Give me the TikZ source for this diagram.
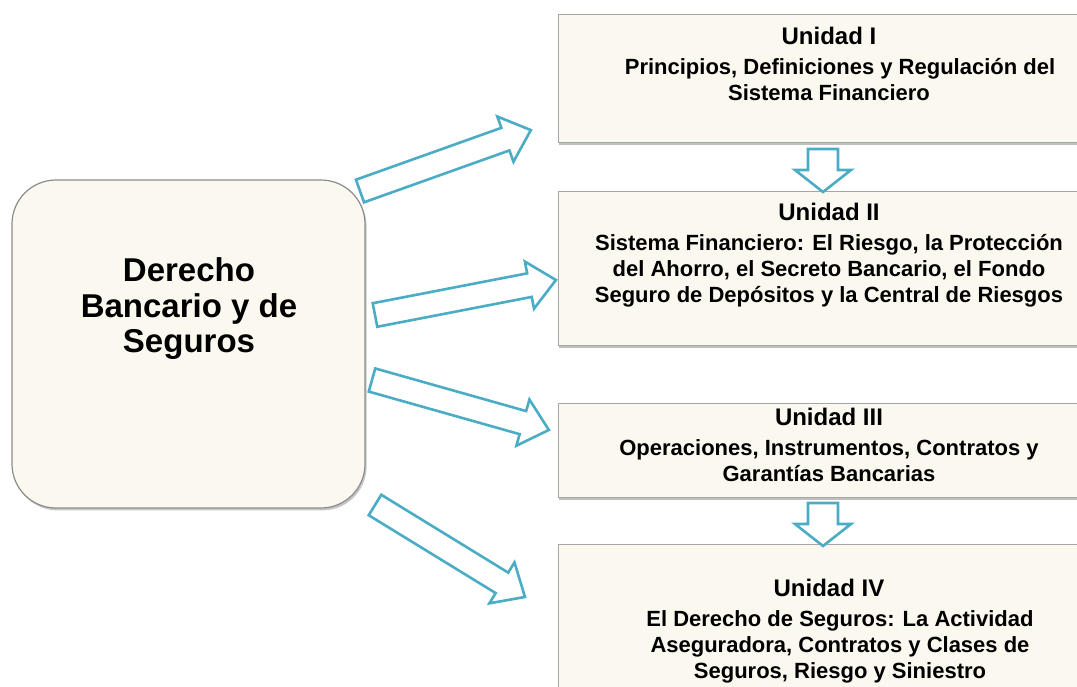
\documentclass[tikz,border=0pt]{standalone}
\usepackage{fontspec}
\setmainfont{Liberation Sans}
\usepackage{xcolor}
\usetikzlibrary{positioning, calc, shadows}
\definecolor{cream}{RGB}{251,249,239}
\definecolor{aqua}{RGB}{75,172,198}
\tikzset{
  %% Central subject box
  mainbox/.style={
    rectangle, rounded corners=22pt,
    draw=black!45, fill=cream, line width=0.6pt,
    minimum width=176.5pt, minimum height=164pt,
    drop shadow={shadow xshift=0.8pt, shadow yshift=-1.2pt, opacity=0.45}
  },
  %% Unit box (height as argument)
  unitbox/.style={
    rectangle, draw=black!35, fill=cream, line width=0.5pt,
    minimum width=271pt, minimum height=#1,
    drop shadow={shadow xshift=0.6pt, shadow yshift=-1.4pt, opacity=0.5}
  },
  unitbox/.default=60pt,
  %% Texts
  maintext/.style={align=center, inner sep=0pt,
    font=\fontsize{16.5}{17.75}\selectfont\bfseries},
  unittext/.style={align=center, inner sep=0pt,
    font=\fontsize{11}{13}\selectfont\bfseries},
  %% Outlined block arrow
  barr/.style={draw=aqua, fill=white, line width=1.3pt, line join=miter},
}
\newcommand{\unitname}[1]{{\fontsize{12}{13}\selectfont #1}\\[2pt]}
%% block arrow: from, to, shaft half width, head half width, head length
\newcommand{\blockarrow}[5]{%
  \draw[barr] let \p1=(#1), \p2=(#2),
      \n1={atan2(\y2-\y1,\x2-\x1)}, \n2={veclen(\x2-\x1,\y2-\y1)} in
    [shift={(\p1)}, rotate=\n1]
    (0pt,-#3) -- ({\n2-#5},-#3) -- ({\n2-#5},-#4) -- ({\n2*1pt},0pt)
    -- ({\n2-#5},#4) -- ({\n2-#5},#3) -- (0pt,#3) -- cycle;}

\begin{document}
\begin{tikzpicture}[x=0.5pt, y=-0.5pt]

  \useasboundingbox (0,0) rectangle (1077,686);

  %% Central node
  \node[mainbox] (dbs) at (188.5,344) {};
  \node[maintext] (dbstxt) at (189,309) {Derecho\\Bancario y de\\Seguros};

  %% Units
  \node[unitbox=64pt]   (u1) at (829,78)  {};
  \node[unitbox=77pt]   (u2) at (829,268) {};
  \node[unitbox=47pt]   (u3) at (829,450) {};
  \node[unitbox=92.5pt] (u4) at (829,637) {};

  \node[unittext, below=6.5pt of u1.north] (u1txt)
       {\unitname{Unidad I}\hspace*{11pt}Principios, Definiciones y Regulación del\\
        Sistema Financiero};
  \node[unittext, below=6pt of u2.north] (u2txt)
       {\unitname{Unidad II}Sistema Financiero: El Riesgo, la Protección\\
        del Ahorro, el Secreto Bancario, el Fondo\\
        Seguro de Depósitos y la Central de Riesgos};
  \node[unittext, below=2.5pt of u3.north] (u3txt)
       {\unitname{Unidad III}Operaciones, Instrumentos, Contratos y\\
        Garantías Bancarias};
  \node[unittext, below=17.5pt of u4.north] (u4txt)
       {\unitname{Unidad IV}\hspace*{11pt}El Derecho de Seguros: La Actividad\\
        \hspace*{11pt}Aseguradora, Contratos y Clases de\\
        \hspace*{11pt}Seguros, Riesgo y Siniestro};

  %% Arrow ends
  \coordinate (a1s) at (360,191);  \coordinate (a1e) at (531,130);
  \coordinate (a2s) at (375,315);  \coordinate (a2e) at (556,280);
  \coordinate (a3s) at (372,380);  \coordinate (a3e) at (549,430);
  \coordinate (a4s) at (375,505);  \coordinate (a4e) at (525,597);
  \coordinate (d1s) at (823,149);  \coordinate (d1e) at (823,192);
  \coordinate (d2s) at (823,503);  \coordinate (d2e) at (823,546);

  %% Arrows
  \blockarrow{a1s}{a1e}{6pt}{12pt}{13.5pt}
  \blockarrow{a2s}{a2e}{6pt}{12pt}{13.5pt}
  \blockarrow{a3s}{a3e}{6pt}{12pt}{13.5pt}
  \blockarrow{a4s}{a4e}{6pt}{12pt}{13.5pt}
  \blockarrow{d1s}{d1e}{7.5pt}{14pt}{11pt}
  \blockarrow{d2s}{d2e}{7.5pt}{14pt}{11pt}

\end{tikzpicture}
\end{document}
